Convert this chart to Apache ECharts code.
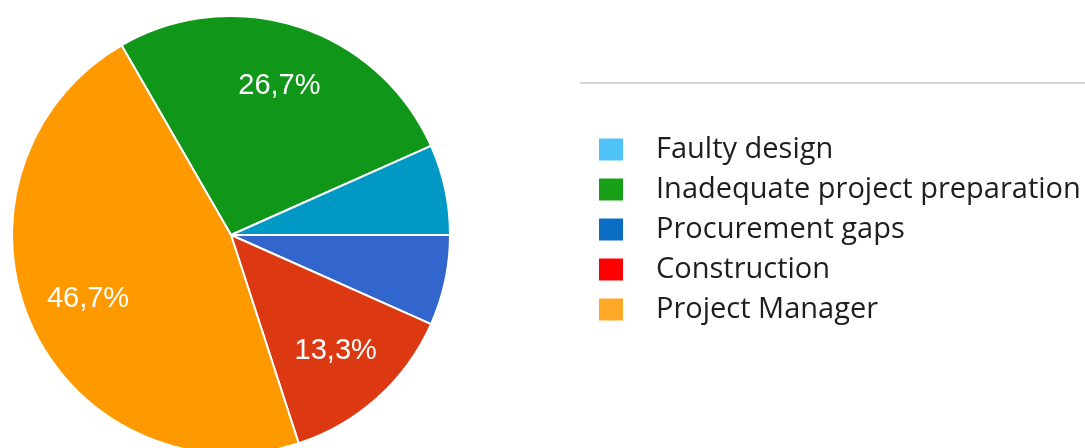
<!DOCTYPE html>
<html>
<head>
<meta charset="utf-8">
<script src="https://cdn.jsdelivr.net/npm/echarts@6/dist/echarts.min.js"></script>
<style>
  html, body { margin: 0; padding: 0; background: #fff; }
  #chart { width: 1085px; height: 448px; }
</style>
</head>
<body>
<div id="chart"></div>
<script>
// Slices in drawing order (clockwise from the start angle)
const sliceNames  = ['Inadequate project preparation', 'Faulty design', 'Procurement gaps', 'Construction', 'Project Manager'];
const sliceValues = [4, 1, 1, 2, 7];
const sliceColors = ['#109618', '#0099c6', '#3366cc', '#dc3912', '#ff9900'];

// Legend entries in listed order, with their swatch colours
const legendNames  = ['Faulty design', 'Inadequate project preparation', 'Procurement gaps', 'Construction', 'Project Manager'];
const legendColors = ['#4fc3f7', '#18a018', '#0a6fc4', '#ff0000', '#ffa726'];

// Slices too thin to carry a percentage label
const unlabelled = ['Faulty design', 'Procurement gaps'];

const pieData = sliceNames.map((n, i) => ({
  name: n,
  value: sliceValues[i],
  itemStyle: { color: sliceColors[i] }
}));

const labelData = sliceNames.map((n, i) => ({
  name: n,
  value: sliceValues[i],
  label: { show: unlabelled.indexOf(n) < 0 }
}));

const fmt = p => p.percent.toFixed(1).replace('.', ',') + '%';

const chart = echarts.init(document.getElementById('chart'), null, { renderer: 'canvas' });
chart.setOption({
  animation: false,
  backgroundColor: '#ffffff',
  legend: {
    orient: 'vertical',
    left: 597,
    top: 135,
    padding: 0,
    itemWidth: 26,
    itemHeight: 24,
    itemGap: 11,
    icon: 'rect',
    selectedMode: false,
    textStyle: {
      fontFamily: 'Open Sans',
      fontSize: 29,
      color: '#1e1e1e',
      padding: [0, 0, 0, 27]
    },
    data: legendNames.map((n, i) => ({ name: n, itemStyle: { color: legendColors[i] } }))
  },
  graphic: [{
    type: 'line',
    shape: { x1: 580, y1: 83, x2: 1085, y2: 83 },
    style: { stroke: '#d4d4d4', lineWidth: 2 },
    silent: true
  }],
  series: [
    {
      type: 'pie',
      center: [231, 235],
      radius: [0, 219],
      startAngle: 120,
      clockwise: true,
      label: { show: false },
      labelLine: { show: false },
      itemStyle: { borderColor: '#ffffff', borderWidth: 2 },
      emphasis: { disabled: true },
      data: pieData
    },
    {
      // transparent ring that places the percentage labels at ~70% of the radius
      type: 'pie',
      center: [231, 235],
      radius: [88, 219],
      startAngle: 120,
      clockwise: true,
      silent: true,
      itemStyle: { color: 'rgba(0,0,0,0)' },
      labelLine: { show: false },
      label: {
        show: true,
        position: 'inner',
        formatter: fmt,
        color: '#ffffff',
        fontFamily: 'Liberation Sans',
        fontSize: 29
      },
      emphasis: { disabled: true },
      data: labelData
    }
  ]
});
</script>
</body>
</html>
